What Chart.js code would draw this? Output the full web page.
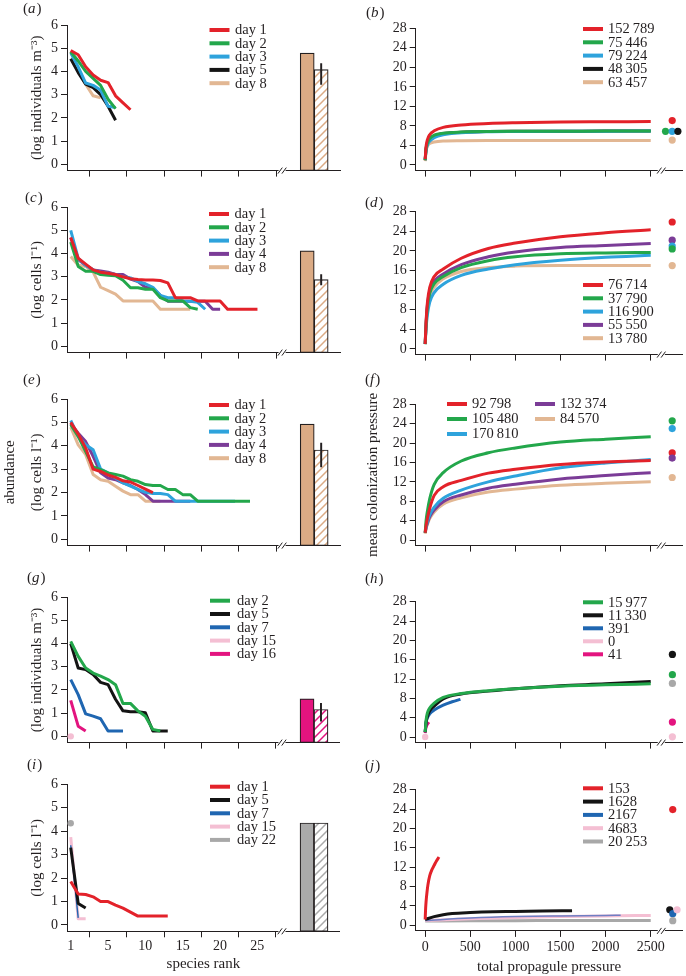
<!DOCTYPE html>
<html lang="en">
<head>
<meta charset="utf-8">
<title>Rank abundance and colonization pressure</title>
<script src="https://cdn.jsdelivr.net/npm/chart.js@4.4.1/dist/chart.umd.min.js"></script>
<style>
html,body{margin:0;padding:0;background:#ffffff;}
body{position:relative;width:686px;height:976px;overflow:hidden;}
canvas{position:absolute;}
</style>
</head>
<body>
<script>
// ================= DATA =================
// shared ticks
const rankTickPos = [0, 5, 10, 15, 20, 25];          // first position carries label "1"
const rankTickLabels = ['1', '5', '10', '15', '20', '25'];
const abundanceTicks = [0, 1, 2, 3, 4, 5, 6];
const pressureTicks = [0, 500, 1000, 1500, 2000, 2500];
const pressureTickLabels = ['0', '500', '1000', '1500', '2000', '2500'];
const colonizationTicks = [0, 4, 8, 12, 16, 20, 24, 28];

// (a)
const aSeries = ['day 1', 'day 2', 'day 3', 'day 5', 'day 8'];
const aDay1 = [4.9, 4.72, 4.2, 3.85, 3.62, 3.52, 2.95, 2.65, 2.35];
const aDay2 = [4.85, 4.45, 4.0, 3.7, 3.4, 2.8, 2.4];
const aDay3 = [4.8, 4.2, 3.5, 3.4, 3.2, 2.5, 2.45];
const aDay5 = [4.55, 3.95, 3.45, 3.3, 3.0, 2.5, 1.9];
const aDay8 = [4.85, 4.08, 3.45, 2.95, 2.87];
const aBars = [4.79, 4.08];
const aRange = [3.44, 4.34];

// (c)
const cSeries = ['day 1', 'day 2', 'day 3', 'day 4', 'day 8'];
const cDay1 = [4.7, 3.8, 3.55, 3.3, 3.2, 3.15, 3.1, 3.0, 2.92, 2.88, 2.86, 2.86, 2.84, 2.74, 2.1, 2.1, 2.1, 1.96, 1.96, 1.96, 1.96, 1.6, 1.6, 1.6, 1.6, 1.6];
const cDay2 = [4.5, 3.45, 3.24, 3.24, 3.1, 3.07, 3.05, 2.85, 2.53, 2.53, 2.46, 2.46, 2.1, 1.96, 1.96, 1.96, 1.67, 1.6];
const cDay3 = [5.0, 3.8, 3.5, 3.3, 3.2, 3.15, 3.1, 3.0, 2.95, 2.8, 2.7, 2.55, 2.2, 2.1, 2.1, 1.95, 1.95, 1.9, 1.6];
const cDay4 = [4.7, 3.75, 3.5, 3.3, 3.25, 3.2, 3.1, 3.1, 2.9, 2.8, 2.55, 2.5, 2.2, 1.95, 1.95, 1.95, 1.95, 1.95, 1.95, 1.6, 1.6];
const cDay8 = [3.88, 3.5, 3.45, 3.2, 2.55, 2.4, 2.25, 1.96, 1.96, 1.96, 1.96, 1.96, 1.6, 1.6, 1.6, 1.6, 1.6];
const cBars = [4.12, 2.88];
const cRange = [2.65, 3.1];

// (e)
const eSeries = ['day 1', 'day 2', 'day 3', 'day 4', 'day 8'];
const eDay1 = [5.0, 4.5, 3.9, 3.0, 2.9, 2.75, 2.65, 2.5, 2.45, 2.3, 2.15, 2.0];
const eDay2 = [4.9, 4.4, 3.75, 3.1, 2.98, 2.84, 2.77, 2.7, 2.55, 2.48, 2.34, 2.3, 2.3, 2.13, 2.13, 1.91, 1.91, 1.63, 1.63, 1.63, 1.63, 1.63, 1.63, 1.63, 1.63];
const eDay3 = [5.08, 4.4, 4.04, 3.83, 3.0, 2.84, 2.62, 2.41, 2.27, 2.13, 2.01, 1.96, 1.96, 1.91, 1.63, 1.63, 1.63, 1.63, 1.63, 1.63, 1.63, 1.63, 1.63];
const eDay4 = [4.95, 4.54, 4.18, 3.55, 2.84, 2.62, 2.55, 2.41, 2.3, 2.13, 1.91, 1.63, 1.63, 1.63, 1.63, 1.63, 1.63];
const eDay8 = [4.8, 4.04, 3.62, 2.77, 2.55, 2.48, 2.27, 2.06, 1.91, 1.91, 1.63, 1.63, 1.63];
const eBars = [4.93, 3.82];
const eRange = [3.09, 4.11];

// (g)
const gSeries = ['day 2', 'day 5', 'day 7', 'day 15', 'day 16'];
const gDay2 = [4.1, 3.45, 2.95, 2.73, 2.6, 2.45, 2.23, 1.42, 1.42, 1.1, 0.87, 0.3, 0.23];
const gDay5 = [4.0, 2.95, 2.88, 2.67, 2.33, 2.23, 1.6, 1.1, 1.06, 1.06, 1.02, 0.23, 0.23, 0.23];
const gDay7 = [2.45, 1.8, 0.97, 0.87, 0.76, 0.23, 0.23, 0.23];
const gDay15 = [0.0];
const gDay16 = [1.55, 0.44, 0.23];
const gBars = [1.62, 1.16];
const gRange = [0.66, 1.42];

// (i)
const iSeries = ['day 1', 'day 5', 'day 7', 'day 15', 'day 22'];
const iDay1 = [1.85, 1.32, 1.3, 1.2, 1.0, 1.0, 0.85, 0.72, 0.55, 0.38, 0.38, 0.38, 0.38, 0.38];
const iDay5 = [3.3, 0.92, 0.72];
const iDay7 = [3.4, 0.3];
const iDay15 = [3.75, 0.26, 0.26];
const iDay22 = [4.34];
const iBars = [4.35, 4.35];

// (b)
const bX = [0, 10, 25, 50, 100, 200, 400, 700, 1000, 1500, 2000, 2500];
const bSeries = ['152\u2009789', '75\u2009446', '79\u2009224', '48\u2009305', '63\u2009457'];
const bRed   = [1.2, 3.8, 5.2, 6.2, 7.0, 7.7, 8.2, 8.5, 8.65, 8.8, 8.85, 8.9];
const bGreen = [1.0, 3.4, 4.5, 5.4, 6.1, 6.5, 6.75, 6.85, 6.9, 6.92, 6.94, 6.95];
const bBlue  = [1.0, 3.0, 4.1, 4.9, 5.6, 6.2, 6.6, 6.8, 6.85, 6.9, 6.92, 6.95];
const bBlack = [1.0, 3.3, 4.4, 5.3, 6.0, 6.45, 6.7, 6.85, 6.9, 6.92, 6.94, 6.95];
const bTan   = [0.8, 2.8, 3.8, 4.4, 4.7, 4.9, 4.97, 5.0, 5.0, 5.0, 5.0, 5.0];
const bObserved = [9.1, 6.9, 6.9, 6.9, 5.1];
const bObservedX = [2738, 2664, 2738, 2801, 2738];

// (d)
const dX = [0, 10, 25, 50, 100, 200, 400, 700, 1000, 1500, 2000, 2500];
const dSeries = ['76\u2009714', '37\u2009790', '116\u2009900', '55\u2009550', '13\u2009780'];
const dRed    = [1.0, 5.5, 9.5, 12.5, 14.8, 16.3, 18.5, 20.5, 21.6, 22.9, 23.7, 24.3];
const dGreen  = [1.0, 5.0, 8.6, 11.3, 13.3, 14.8, 16.6, 18.0, 18.8, 19.4, 19.6, 19.7];
const dBlue   = [1.0, 4.2, 7.0, 9.5, 11.5, 13.2, 15.0, 16.3, 17.2, 18.1, 18.7, 19.1];
const dPurple = [1.0, 5.2, 9.0, 11.8, 13.8, 15.3, 17.2, 18.8, 19.8, 20.7, 21.1, 21.5];
const dTan    = [1.0, 4.8, 8.3, 10.8, 12.6, 14.3, 15.8, 16.6, 16.9, 17.0, 17.0, 17.0];
const dObserved = [25.9, 22.2, 21.0, 20.4, 17.0];
const dObservedX = [2738, 2738, 2738, 2738, 2738];

// (f)
const fX = [0, 10, 25, 50, 100, 200, 400, 700, 1000, 1500, 2000, 2500];
const fSeries = ['92\u2009798', '105\u2009480', '170\u2009810', '132\u2009374', '84\u2009570'];
const fRed    = [1.5, 3.0, 4.5, 6.5, 9.2, 11.0, 12.3, 13.8, 14.6, 15.6, 16.1, 16.4];
const fGreen  = [1.5, 4.0, 6.0, 8.5, 11.5, 13.9, 16.3, 18.0, 19.0, 20.2, 20.8, 21.3];
const fBlue   = [1.5, 2.6, 3.8, 5.2, 6.8, 8.6, 10.3, 12.0, 13.2, 14.9, 15.9, 16.6];
const fPurple = [1.5, 2.5, 3.5, 4.8, 6.2, 7.9, 9.3, 10.7, 11.5, 12.6, 13.3, 13.9];
const fTan    = [1.3, 2.3, 3.2, 4.4, 5.8, 7.4, 8.7, 9.9, 10.5, 11.3, 11.7, 12.0];
const fObserved = [24.6, 23.0, 18.0, 16.9, 12.9];
const fObservedX = [2738, 2738, 2738, 2738, 2738];

// (h)
const hSeries = ['15\u2009977', '11\u2009330', '391', '0', '41'];
const hGreenX = [0, 10, 25, 50, 100, 200, 400, 700, 1000, 1500, 2000, 2500];
const hGreen  = [1.0, 3.5, 5.0, 6.0, 7.0, 8.2, 9.0, 9.6, 10.0, 10.5, 10.8, 11.0];
const hBlackX = [0, 10, 25, 50, 100, 200, 400, 700, 1000, 1500, 2000, 2500];
const hBlack  = [1.0, 3.0, 4.3, 5.4, 6.4, 7.9, 8.9, 9.5, 10.0, 10.6, 11.0, 11.5];
const hBlueX  = [0, 10, 25, 50, 100, 200, 300, 391];
const hBlue   = [1.0, 3.0, 4.0, 4.8, 5.6, 6.6, 7.3, 7.8];
const hPinkX  = [0];
const hPink   = [0.0];
const hMagentaX = [0, 5, 10, 20, 30, 41];
const hMagenta  = [0.8, 1.6, 2.0, 2.5, 2.8, 3.1];
const hObserved = [17.1, 12.9, 11.1, 3.1, 0.05];
const hObservedX = [2740, 2740, 2740, 2740, 2740];

// (j)
const jSeries = ['153', '1628', '2167', '4683', '20\u2009253'];
const jRedX   = [0, 5, 10, 20, 30, 50, 75, 100, 125, 153];
const jRed    = [1.2, 3.5, 4.9, 6.8, 8.3, 10.2, 11.5, 12.4, 13.3, 14.1];
const jBlackX = [0, 100, 200, 300, 500, 750, 1000, 1300, 1628];
const jBlack  = [1.2, 1.8, 2.2, 2.45, 2.65, 2.8, 2.85, 2.95, 3.0];
const jBlueX  = [0, 500, 1000, 1500, 2000, 2167];
const jBlue   = [1.0, 1.5, 1.8, 1.95, 2.05, 2.1];
const jPinkX  = [0, 500, 1000, 1500, 2000, 2500];
const jPink   = [1.0, 1.35, 1.6, 1.8, 1.95, 2.05];
const jGrayX  = [0, 500, 1000, 1500, 2000, 2500];
const jGray   = [0.9, 0.95, 0.97, 0.98, 1.0, 1.0];
const jObserved = [23.9, 3.2, 2.4, 3.2, 0.96];
const jObservedX = [2744, 2711, 2744, 2792, 2744];

// ================= STYLE / LAYOUT =================
const FONT = '"Liberation Serif","Times New Roman",Times,serif';
const INK = '#231f20';
const COL = {
  red: '#e3222a', green: '#23a74b', sky: '#2ea3dc', black: '#141414', tan: '#e2b793',
  purple: '#7b3c97', blue: '#1f66b1', pink: '#f4bfd3', magenta: '#e3147f', gray: '#a8a8a8',
  barTan: '#dbab85', barMagenta: '#e3147f', barGray: '#aaaaaa', thinBlue: '#6f7fc4'
};
const barPos = [31.66, 33.53];       // observed / estimated bar positions on rank axis
const LEFT = { xMin: -0.5, xMax: 36.05, yMin: -0.27, yMax: 6, breakAt: 28.3 };
const RIGHT = { xMin: -105, xMax: 2851, yMin: -1.15, yMax: 28, breakAt: 2617 };

function hatch(color) {
  const c = document.createElement('canvas');
  c.width = 8; c.height = 8;
  const g = c.getContext('2d');
  g.fillStyle = '#ffffff'; g.fillRect(0, 0, 8, 8);
  g.strokeStyle = color; g.lineWidth = 1.5;
  g.beginPath();
  g.moveTo(-2, 10); g.lineTo(10, -2);
  g.moveTo(-2, 2); g.lineTo(2, -2);
  g.moveTo(6, 10); g.lineTo(10, 6);
  g.stroke();
  return g.createPattern(c, 'repeat');
}

const decor = {
  id: 'decor',
  afterDraw(chart, args, o) {
    const ctx = chart.ctx;
    const ca = chart.chartArea;
    ctx.save();
    // axis break
    if (o.breakAt != null) {
      const bx = chart.scales.x.getPixelForValue(o.breakAt);
      const by = ca.bottom;
      ctx.fillStyle = '#ffffff';
      ctx.fillRect(bx - 3.5, by - 1.5, 7, 3);
      ctx.strokeStyle = INK; ctx.lineWidth = 1;
      [-2, 2].forEach(dx => {
        ctx.beginPath();
        ctx.moveTo(bx + dx - 2.2, by + 3);
        ctx.lineTo(bx + dx + 2.2, by - 3);
        ctx.stroke();
      });
    }
    // panel tag "(a)"
    if (o.tag) {
      ctx.fillStyle = INK;
      ctx.textBaseline = 'middle';
      ctx.textAlign = 'left';
      let x = o.tag.x;
      ctx.font = '15px ' + FONT;
      ctx.fillText('(', x, o.tag.y); x += ctx.measureText('(').width;
      ctx.font = 'italic 15px ' + FONT;
      ctx.fillText(o.tag.letter, x, o.tag.y); x += ctx.measureText(o.tag.letter).width + 1;
      ctx.font = '15px ' + FONT;
      ctx.fillText(')', x, o.tag.y);
    }
    // legend
    if (o.legend) {
      const L = o.legend;
      const items = chart.data.datasets.filter(d => d.legendEntry);
      ctx.font = '14.5px ' + FONT;
      ctx.textBaseline = 'middle';
      ctx.textAlign = 'left';
      items.forEach((d, k) => {
        const col = Math.floor(k / L.rows), row = k % L.rows;
        const x = L.x + col * (L.colW || 0), y = L.y + row * L.rowH;
        ctx.strokeStyle = d.legendColor || d.borderColor;
        ctx.lineWidth = 4;
        ctx.lineCap = 'butt';
        ctx.beginPath(); ctx.moveTo(x, y); ctx.lineTo(x + 20, y); ctx.stroke();
        ctx.fillStyle = INK;
        ctx.fillText(d.label, x + (L.textDx || 25.5), y + 0.5);
      });
    }
    ctx.restore();
  }
};

function panel(p) {
  const cv = document.createElement('canvas');
  cv.width = p.width; cv.height = p.height;
  cv.style.left = p.left + 'px'; cv.style.top = p.top + 'px';
  cv.style.width = p.width + 'px'; cv.style.height = p.height + 'px';
  document.body.appendChild(cv);
  const R = p.right ? RIGHT : LEFT;
  const padTop = p.chartTop - p.top;
  const xAxisH = p.height - (p.chartBottom - p.top);
  const datasets = [];
  p.series.forEach(s => {
    const data = s.y.map((v, i) => ({ x: s.x ? s.x[i] : i, y: v }));
    datasets.push({
      type: 'line', label: s.label, data,
      borderColor: s.color, backgroundColor: s.color, legendColor: s.legendColor,
      borderWidth: s.w || 3, borderJoinStyle: 'round', borderCapStyle: 'butt',
      pointRadius: s.y.length === 1 ? 3.2 : 0, pointBorderWidth: 0, pointBackgroundColor: s.color,
      pointHoverRadius: 0,
      tension: 0, cubicInterpolationMode: p.right ? 'monotone' : 'default',
      fill: false, order: 1, legendEntry: true
    });
  });
  if (p.bars) {
    datasets.push({
      type: 'bar', label: 'observed / estimated',
      data: p.bars.map((v, i) => ({ x: barPos[i], y: v })),
      backgroundColor: [p.barColor, hatch(p.barColor)],
      borderColor: INK, borderWidth: 1.2, borderSkipped: false,
      barThickness: 14, grouped: false, base: R.yMin, order: 3
    });
    if (p.range) {
      datasets.push({
        type: 'bar', label: 'range',
        data: [{ x: barPos[1], y: p.range }],
        backgroundColor: INK, borderWidth: 0,
        barThickness: 1.3, grouped: false, order: 0
      });
    }
  }
  if (p.dots) {
    datasets.push({
      type: 'line', label: 'observed', showLine: false,
      data: p.dots.map((v, i) => ({ x: p.dotX[i], y: v })),
      pointRadius: 3.6, pointBorderWidth: 0, pointBackgroundColor: p.dotColors,
      pointHoverRadius: 0, order: 0
    });
  }
  const xTicks = p.right ? pressureTicks : rankTickPos;
  const yTicks = p.right ? colonizationTicks : abundanceTicks;
  return new Chart(cv, {
    type: 'line',
    data: { datasets },
    plugins: [decor],
    options: {
      responsive: false, animation: false, devicePixelRatio: 1,
      events: [],
      layout: { padding: { top: padTop, right: p.padRight, left: 0, bottom: 0 } },
      plugins: {
        legend: { display: false }, tooltip: { enabled: false },
        decor: {
          breakAt: R.breakAt,
          tag: { letter: p.tag, x: p.tagX - p.left, y: p.tagY - p.top },
          legend: { x: p.legX - p.left, y: p.legY - p.top, rowH: p.legRowH || 13.3, rows: p.legRows || 5, colW: p.legColW || 0, textDx: p.legTextDx || 25.5 }
        }
      },
      scales: {
        x: {
          type: 'linear', min: R.xMin, max: R.xMax, offset: false,
          afterBuildTicks: s => { s.ticks = xTicks.map(v => ({ value: v })); },
          afterFit: s => { s.height = xAxisH; },
          grid: { drawOnChartArea: false, drawTicks: true, tickLength: 6, tickColor: INK, tickWidth: 1 },
          border: { display: true, color: INK, width: 1 },
          ticks: {
            display: !!p.xLabels, autoSkip: false, maxRotation: 0,
            font: { family: FONT, size: 14 }, color: INK, padding: p.xTickPad || 1,
            callback: (v, i) => p.xLabels ? p.xLabels[i] : ''
          },
          title: {
            display: !!p.xTitle, text: p.xTitle || '', color: INK,
            font: { family: FONT, size: 15 }, padding: { top: 0, bottom: p.xTitlePad || 0 }
          }
        },
        y: {
          type: 'linear', min: R.yMin, max: R.yMax,
          afterBuildTicks: s => { s.ticks = yTicks.map(v => ({ value: v })); },
          afterFit: s => { s.width = p.axisW; },
          grid: { drawOnChartArea: false, drawTicks: true, tickLength: 6, tickColor: INK, tickWidth: 1 },
          border: { display: true, color: INK, width: 1 },
          ticks: { font: { family: FONT, size: 14 }, color: INK, padding: 3, autoSkip: false },
          title: {
            display: !!p.yTitle, text: p.yTitle || '', color: INK,
            font: { family: FONT, size: 15, lineHeight: p.yTitleLH || 1.2 },
            padding: { top: p.yTitlePad, bottom: 0 }
          }
        }
      }
    }
  });
}

const leftBase = { left: 0, width: 343, axisW: 67, padRight: 3, yTitlePad: 28, legTextDx: 25.5 };
const rightBase = { right: true, left: 343, width: 343, axisW: 72.7, padRight: 1, legX: 583, legTextDx: 25 };

// (a)
panel(Object.assign({}, leftBase, {
  top: 0, height: 182, chartTop: 25, chartBottom: 172,
  tag: 'a', tagX: 23, tagY: 9.5, legX: 209.5, legY: 30,
  yTitle: '(log individuals m\u207B\u00B3)',
  series: [
    { label: aSeries[0], y: aDay1, color: COL.red },
    { label: aSeries[1], y: aDay2, color: COL.green },
    { label: aSeries[2], y: aDay3, color: COL.sky },
    { label: aSeries[3], y: aDay5, color: COL.black },
    { label: aSeries[4], y: aDay8, color: COL.tan }
  ],
  bars: aBars, range: aRange, barColor: COL.barTan
}));
// (c)
panel(Object.assign({}, leftBase, {
  top: 186, height: 178, chartTop: 207.3, chartBottom: 353.6,
  tag: 'c', tagX: 25, tagY: 198, legX: 209, legY: 214,
  yTitle: '(log cells l\u207B\u00B9)',
  series: [
    { label: cSeries[0], y: cDay1, color: COL.red },
    { label: cSeries[1], y: cDay2, color: COL.green },
    { label: cSeries[2], y: cDay3, color: COL.sky },
    { label: cSeries[3], y: cDay4, color: COL.purple },
    { label: cSeries[4], y: cDay8, color: COL.tan }
  ],
  bars: cBars, range: cRange, barColor: COL.barTan
}));
// (e)
panel(Object.assign({}, leftBase, {
  top: 366, height: 191, chartTop: 399, chartBottom: 546.3,
  tag: 'e', tagX: 23, tagY: 380, legX: 209, legY: 405,
  yTitle: ['abundance', '(log cells l\u207B\u00B9)'], yTitleLH: 1.8, yTitlePad: -3.5,
  series: [
    { label: eSeries[0], y: eDay1, color: COL.red },
    { label: eSeries[1], y: eDay2, color: COL.green },
    { label: eSeries[2], y: eDay3, color: COL.sky },
    { label: eSeries[3], y: eDay4, color: COL.purple },
    { label: eSeries[4], y: eDay8, color: COL.tan }
  ],
  bars: eBars, range: eRange, barColor: COL.barTan
}));
// (g)
panel(Object.assign({}, leftBase, {
  top: 564, height: 190, chartTop: 597.3, chartBottom: 743.3,
  tag: 'g', tagX: 27, tagY: 578, legX: 210, legY: 600.7, legTextDx: 27,
  yTitle: '(log individuals m\u207B\u00B3)',
  series: [
    { label: gSeries[0], y: gDay2, color: COL.green },
    { label: gSeries[1], y: gDay5, color: COL.black },
    { label: gSeries[2], y: gDay7, color: COL.blue },
    { label: gSeries[3], y: gDay15, color: COL.pink },
    { label: gSeries[4], y: gDay16, color: COL.magenta }
  ],
  bars: gBars, range: gRange, barColor: COL.barMagenta
}));
// (i)
panel(Object.assign({}, leftBase, {
  top: 750, height: 226, chartTop: 784.3, chartBottom: 931.3,
  tag: 'i', tagX: 27, tagY: 765, legX: 210, legY: 786.7, legTextDx: 27,
  yTitle: '(log cells l\u207B\u00B9)',
  xLabels: rankTickLabels, xTickPad: 1, xTitle: 'species rank', xTitlePad: 2.7,
  series: [
    { label: iSeries[0], y: iDay1, color: COL.red },
    { label: iSeries[1], y: iDay5, color: COL.black },
    { label: iSeries[2], y: iDay7, color: COL.blue, w: 1.4 },
    { label: iSeries[3], y: iDay15, color: COL.pink },
    { label: iSeries[4], y: iDay22, color: COL.gray }
  ],
  bars: iBars, barColor: COL.barGray
}));

// (b)
panel(Object.assign({}, rightBase, {
  top: 0, height: 182, chartTop: 28.3, chartBottom: 171.3,
  tag: 'b', tagX: 366, tagY: 13, legY: 29,
  series: [
    { label: bSeries[0], x: bX, y: bRed, color: COL.red },
    { label: bSeries[1], x: bX, y: bGreen, color: COL.green },
    { label: bSeries[2], x: bX, y: bBlue, color: COL.sky },
    { label: bSeries[3], x: bX, y: bBlack, color: COL.black },
    { label: bSeries[4], x: bX, y: bTan, color: COL.tan }
  ],
  dots: bObserved, dotX: bObservedX, dotColors: [COL.red, COL.green, COL.sky, COL.black, COL.tan]
}));
// (d)
panel(Object.assign({}, rightBase, {
  top: 186, height: 180, chartTop: 211.7, chartBottom: 355,
  tag: 'd', tagX: 365, tagY: 203, legY: 285,
  series: [
    { label: dSeries[0], x: dX, y: dRed, color: COL.red },
    { label: dSeries[1], x: dX, y: dGreen, color: COL.green },
    { label: dSeries[2], x: dX, y: dBlue, color: COL.sky },
    { label: dSeries[3], x: dX, y: dPurple, color: COL.purple },
    { label: dSeries[4], x: dX, y: dTan, color: COL.tan }
  ],
  dots: dObserved, dotX: dObservedX, dotColors: [COL.red, COL.purple, COL.sky, COL.green, COL.tan]
}));
// (f)
panel(Object.assign({}, rightBase, {
  top: 366, height: 191, chartTop: 404.3, chartBottom: 546.9,
  tag: 'f', tagX: 365, tagY: 380, legX: 447, legY: 404, legRowH: 15, legRows: 3, legColW: 88,
  yTitle: 'mean colonization pressure', yTitlePad: 21.5,
  series: [
    { label: fSeries[0], x: fX, y: fRed, color: COL.red },
    { label: fSeries[1], x: fX, y: fGreen, color: COL.green },
    { label: fSeries[2], x: fX, y: fBlue, color: COL.sky },
    { label: fSeries[3], x: fX, y: fPurple, color: COL.purple },
    { label: fSeries[4], x: fX, y: fTan, color: COL.tan }
  ],
  dots: fObserved, dotX: fObservedX, dotColors: [COL.green, COL.sky, COL.red, COL.purple, COL.tan]
}));
// (h)
panel(Object.assign({}, rightBase, {
  top: 564, height: 190, chartTop: 601.7, chartBottom: 743.9,
  tag: 'h', tagX: 365, tagY: 579, legY: 602.3, legRowH: 13,
  series: [
    { label: hSeries[0], x: hGreenX, y: hGreen, color: COL.green },
    { label: hSeries[1], x: hBlackX, y: hBlack, color: COL.black },
    { label: hSeries[2], x: hBlueX, y: hBlue, color: COL.blue },
    { label: hSeries[3], x: hPinkX, y: hPink, color: COL.pink },
    { label: hSeries[4], x: hMagentaX, y: hMagenta, color: COL.magenta }
  ],
  dots: hObserved, dotX: hObservedX, dotColors: [COL.black, COL.green, COL.gray, COL.magenta, COL.pink]
}));
// (j)
panel(Object.assign({}, rightBase, {
  top: 750, height: 226, chartTop: 789.7, chartBottom: 930.9,
  tag: 'j', tagX: 365, tagY: 766, legY: 788.3,
  xLabels: pressureTickLabels, xTickPad: 2, xTitle: 'total propagule pressure', xTitlePad: 0,
  series: [
    { label: jSeries[0], x: jRedX, y: jRed, color: COL.red },
    { label: jSeries[1], x: jBlackX, y: jBlack, color: COL.black },
    { label: jSeries[2], x: jBlueX, y: jBlue, color: COL.thinBlue, legendColor: COL.blue, w: 1.5 },
    { label: jSeries[3], x: jPinkX, y: jPink, color: COL.pink },
    { label: jSeries[4], x: jGrayX, y: jGray, color: COL.gray }
  ],
  dots: jObserved, dotX: jObservedX, dotColors: [COL.red, COL.black, COL.blue, COL.pink, COL.gray]
}));
</script>
</body>
</html>
